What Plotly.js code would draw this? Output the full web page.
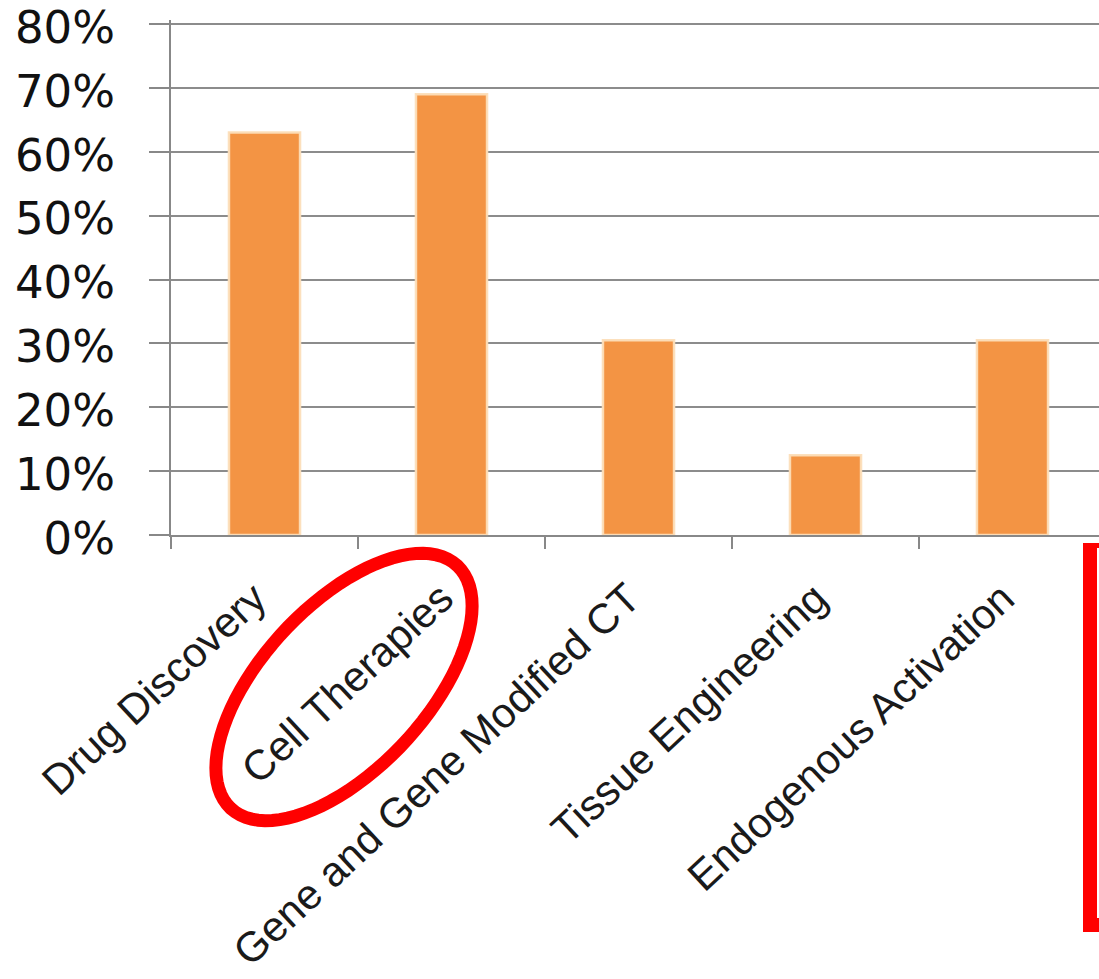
<!DOCTYPE html>
<html>
<head>
<meta charset="utf-8">
<script src="https://cdn.plot.ly/plotly-3.0.1.min.js"></script>
<style>html,body{margin:0;padding:0;background:#fff;}#chart{width:1099px;height:979px;}</style>
</head>
<body>
<div id="chart"></div>
<script>
var categories = ["Drug Discovery", "Cell Therapies", "Gene and Gene Modified CT", "Tissue Engineering", "Endogenous Activation"];
var shares = [0.63, 0.69, 0.305, 0.125, 0.305];
var yTickVals = [0, 0.1, 0.2, 0.3, 0.4, 0.5, 0.6, 0.7, 0.8];
var yTickText = ["0%", "10%", "20%", "30%", "40%", "50%", "60%", "70%", "80%"];

var W = 1099, H = 979;
var M = {l: 171, r: 0, t: 20, b: 444};
var pw = W - M.l - M.r, ph = H - M.t - M.b;
function px2x(p) { return (p - M.l) / pw; }
function py2y(p) { return (H - M.b - p) / ph; }

// red ellipse highlight around "Cell Therapies"
var cx = 344, cy = 687, a = 166, b = 82, phi = 47 * Math.PI / 180;
var pts = [];
for (var i = 0; i <= 90; i++) {
  var t = 2 * Math.PI * i / 90;
  var ex = a * Math.cos(t), ey = b * Math.sin(t);
  var X = cx + ex * Math.cos(phi) - ey * Math.sin(phi);
  var Y = cy - (ex * Math.sin(phi) + ey * Math.cos(phi));
  pts.push((i === 0 ? "M" : "L") + px2x(X).toFixed(5) + "," + py2y(Y).toFixed(5));
}
var ellipsePath = pts.join(" ") + " Z";

var trace = {
  type: "bar",
  x: categories,
  y: shares,
  width: 0.38,
  marker: {color: "#F39444", line: {color: "rgba(252,222,185,0.95)", width: 2.5}},
  hoverinfo: "x+y"
};

var layout = {
  width: W, height: H,
  margin: M,
  paper_bgcolor: "#ffffff",
  plot_bgcolor: "#ffffff",
  showlegend: false,
  xaxis: {
    type: "category",
    range: [-0.5, -0.5 + pw / 187],
    tickangle: -43,
    tickson: "boundaries",
    ticks: "outside",
    ticklen: 12,
    tickwidth: 1.5,
    tickcolor: "#888888",
    showline: true,
    linecolor: "#888888",
    linewidth: 2,
    showgrid: false,
    zeroline: false,
    tickfont: {family: "Liberation Sans, Arial, sans-serif", size: 42, color: "#1a1a1a"},
    ticklabelstandoff: 20,
    ticklabelshift: -10,
    ticklabeloverflow: "allow"
  },
  yaxis: {
    range: [0, 0.8 * ph / 511],
    tickvals: yTickVals,
    ticktext: yTickText,
    ticks: "outside",
    ticklen: 20,
    tickwidth: 2,
    tickcolor: "#888888",
    showline: true,
    linecolor: "#888888",
    linewidth: 2,
    showgrid: true,
    gridcolor: "#8c8c8c",
    gridwidth: 2,
    zeroline: false,
    tickfont: {family: "DejaVu Sans, Verdana, sans-serif", size: 45, color: "#111111"},
    ticklabelstandoff: 25,
    ticklabelshift: 3,
    ticklabeloverflow: "allow"
  },
  shapes: [
    {type: "path", xref: "paper", yref: "paper", path: ellipsePath,
     line: {color: "#FF0000", width: 13}, fillcolor: "rgba(0,0,0,0)", layer: "above"},
    {type: "rect", xref: "paper", yref: "paper",
     x0: px2x(1083), x1: px2x(1120), y0: py2y(932), y1: py2y(543),
     line: {width: 0}, fillcolor: "#FF0000", layer: "above"},
    {type: "rect", xref: "paper", yref: "paper",
     x0: px2x(1097), x1: px2x(1120), y0: py2y(918), y1: py2y(548),
     line: {width: 0}, fillcolor: "#ffffff", layer: "above"}
  ]
};

Plotly.newPlot("chart", [trace], layout, {displayModeBar: false, staticPlot: true});
</script>
</body>
</html>
